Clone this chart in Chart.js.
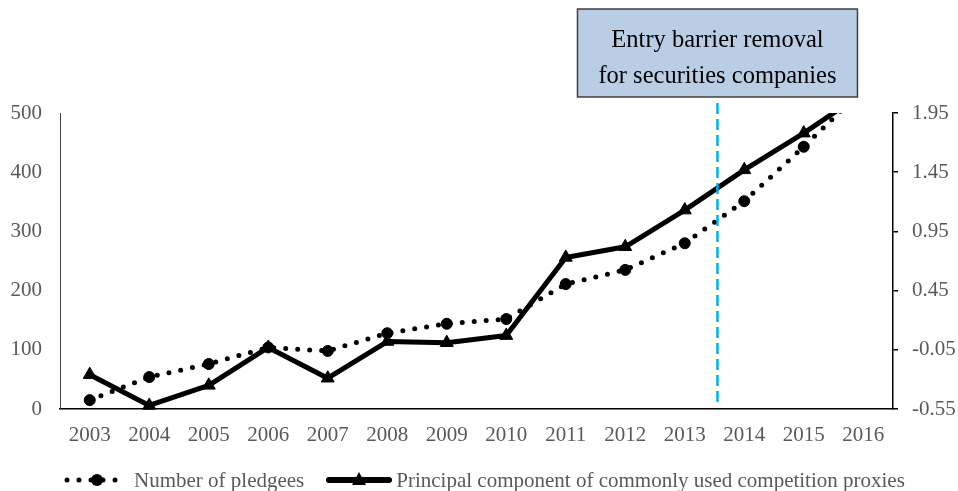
<!DOCTYPE html>
<html>
<head>
<meta charset="utf-8">
<script src="https://cdn.jsdelivr.net/npm/chart.js@4.4.1/dist/chart.umd.min.js"></script>
<style>
  html, body { margin: 0; padding: 0; background: #fff; }
  .wrap { position: relative; width: 958px; height: 491px; }
  canvas { display: block; }
  .legend {
    position: absolute; left: 64px; top: 468px; height: 24px;
    display: flex; align-items: center;
    font: 21px 'Liberation Serif', serif; color: #595959; white-space: nowrap;
  }
  .legend svg { display: block; margin-right: 4px; }
  .legend .item { display: flex; align-items: center; margin-right: 22px; }
</style>
</head>
<body>
<div class="wrap">
  <canvas id="chart" width="958" height="491"></canvas>
  <div class="legend" id="legend"></div>
</div>
<script>
/* ------------ DATA ------------ */
const years = ['2003', '2004', '2005', '2006', '2007', '2008', '2009', '2010',
               '2011', '2012', '2013', '2014', '2015', '2016'];
const pledgees = [15, 54, 76, 104, 98, 128, 144, 152, 211, 235, 280, 351, 443, 540];
const competitionPC = [-0.26, -0.52, -0.35, -0.03, -0.29, 0.02, 0.01, 0.07,
                       0.73, 0.82, 1.13, 1.47, 1.78, 2.12];
const seriesNames = ['Number of pledgees', 'Principal component of commonly used competition proxies'];
const annotationLines = ['Entry barrier removal', 'for securities companies'];
const barrierAt = 10.55;   // category position of the reform line (between 2013 and 2014)

/* ------------ STYLE ------------ */
const serif = "'Liberation Serif', serif";
const grey = '#595959';

/* ------------ ANNOTATION PLUGIN ------------ */
const barrierPlugin = {
  id: 'barrier',
  afterDraw(chart) {
    const { ctx, chartArea, scales } = chart;
    const x = scales.x.getPixelForValue(barrierAt);

    // dashed vertical line
    ctx.save();
    ctx.strokeStyle = '#00b0f0';
    ctx.lineWidth = 2.5;
    ctx.setLineDash([11, 5]);
    ctx.beginPath();
    ctx.moveTo(x, 103);
    ctx.lineTo(x, chartArea.bottom - 4);
    ctx.stroke();
    ctx.restore();

    // label box
    const w = 280, h = 88, top = 9;
    ctx.save();
    ctx.fillStyle = '#b9cde5';
    ctx.strokeStyle = '#404040';
    ctx.lineWidth = 1.5;
    ctx.fillRect(x - w / 2, top, w, h);
    ctx.strokeRect(x - w / 2, top, w, h);
    ctx.fillStyle = '#000';
    ctx.font = '24.5px ' + serif;
    ctx.textAlign = 'center';
    ctx.textBaseline = 'alphabetic';
    ctx.fillText(annotationLines[0], x, 47);
    ctx.fillText(annotationLines[1], x, 83);
    ctx.restore();
  }
};

/* ------------ CHART ------------ */
const ctx = document.getElementById('chart').getContext('2d');
new Chart(ctx, {
  type: 'line',
  data: {
    labels: years,
    datasets: [
      {
        label: seriesNames[0],
        data: pledgees,
        yAxisID: 'y',
        order: 1,
        borderColor: '#000',
        borderWidth: 5,
        borderDash: [0, 12],
        borderCapStyle: 'round',
        pointStyle: 'circle',
        pointRadius: 5.5,
        pointBackgroundColor: '#000',
        pointBorderColor: '#000',
        pointBorderWidth: 1,
        tension: 0,
        clip: { left: 10, right: 10, top: 0, bottom: 10 }
      },
      {
        label: seriesNames[1],
        data: competitionPC,
        yAxisID: 'y1',
        order: 0,
        borderColor: '#000',
        borderWidth: 5,
        borderJoinStyle: 'round',
        pointStyle: 'triangle',
        pointRadius: 7.5,
        pointBackgroundColor: '#000',
        pointBorderColor: '#000',
        pointBorderWidth: 1,
        tension: 0,
        clip: { left: 10, right: 10, top: 0, bottom: 10 }
      }
    ]
  },
  options: {
    responsive: false,
    animation: false,
    devicePixelRatio: 1,
    layout: { padding: { top: 113, left: 0, right: 0, bottom: 0 } },
    plugins: { legend: { display: false }, tooltip: { enabled: false } },
    scales: {
      x: {
        offset: true,
        grid: { display: false, drawTicks: false, offset: true },
        border: { display: true, color: '#000', width: 1.5 },
        ticks: { color: grey, font: { family: serif, size: 21 }, padding: 14, maxRotation: 0, autoSkip: false },
        afterFit(scale) { scale.height = 82; }
      },
      y: {
        position: 'left',
        min: 0, max: 500,
        grid: { display: false, drawTicks: false },
        border: { display: true, color: '#404040', width: 1 },
        ticks: { stepSize: 100, color: grey, font: { family: serif, size: 21 }, padding: 18 },
        afterFit(scale) { scale.width = 60; }
      },
      y1: {
        position: 'right',
        min: -0.55, max: 1.95,
        grid: { drawOnChartArea: false, drawTicks: true, tickLength: 5, color: '#000', lineWidth: 1.5 },
        border: { display: true, color: '#000', width: 1.5 },
        ticks: {
          stepSize: 0.5, color: grey, font: { family: serif, size: 21 }, padding: 14,
          callback: v => Number(v).toFixed(2)
        },
        afterFit(scale) { scale.width = 65; }
      }
    }
  },
  plugins: [barrierPlugin]
});

/* ------------ LEGEND ------------ */
const legend = document.getElementById('legend');
const samples = [
  '<svg width="66" height="18"><line x1="3" y1="9" x2="63" y2="9" stroke="#000" stroke-width="5" stroke-dasharray="0 12" stroke-linecap="round"/><circle cx="33" cy="9" r="6" fill="#000"/></svg>',
  '<svg width="66" height="18"><line x1="3" y1="9" x2="63" y2="9" stroke="#000" stroke-width="6" stroke-linecap="round"/><polygon points="33,1 40,14 26,14" fill="#000"/></svg>'
];
seriesNames.forEach((name, i) => {
  const el = document.createElement('div');
  el.className = 'item';
  el.innerHTML = samples[i] + '<span>' + name + '</span>';
  legend.appendChild(el);
});
</script>
</body>
</html>
